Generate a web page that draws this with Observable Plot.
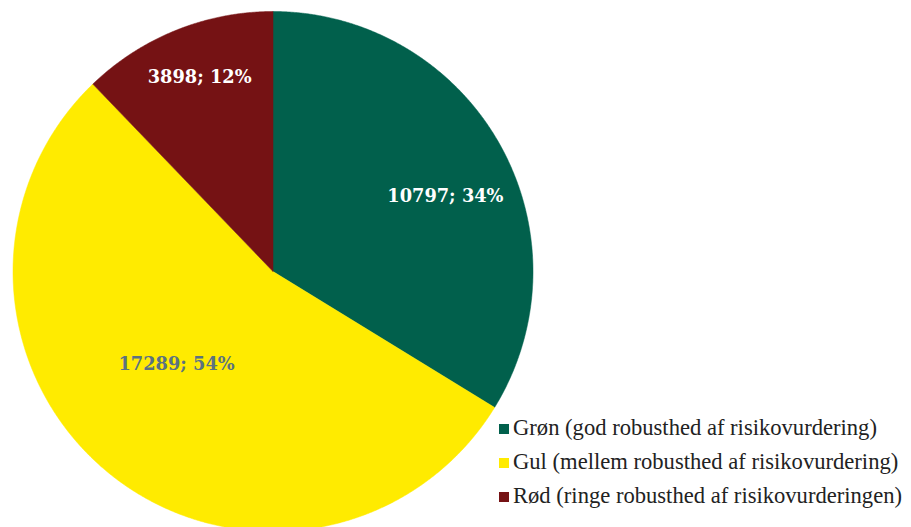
<!DOCTYPE html>
<html><head><meta charset="utf-8">
<script src="https://cdn.jsdelivr.net/npm/d3@7"></script>
<script src="https://cdn.jsdelivr.net/npm/@observablehq/plot@0.6"></script>
<style>
html,body{margin:0;padding:0;background:#fff;overflow:hidden}
#wrap{position:relative;width:911px;height:527px;overflow:hidden}
#legend{position:absolute;left:499px;top:415px;font-family:"Liberation Serif",serif;font-size:22.6px;color:#222}
.row{position:relative;height:34px;line-height:26px;white-space:nowrap}
.sw{position:absolute;left:0;top:9px;width:10px;height:10px}
.lt{position:absolute;left:14px;top:0}
</style>
</head><body><div id="wrap"></div>
<script>
const categories = ["Grøn (god robusthed af risikovurdering)", "Gul (mellem robusthed af risikovurdering)", "Rød (ringe robusthed af risikovurderingen)"];
const values = [10797, 17289, 3898];
const percents = ["34%", "54%", "12%"];
const colors = ["#01604c", "#ffeb00", "#751214"];
const labelColors = ["#ffffff", "#5b7281", "#ffffff"];
const labelAngleDeg = [66.5, 226.1, 339.3];
const labelRadius = [0.723, 0.515, 0.798];

const total = d3.sum(values);
const poly = [];
let acc = 0;
values.forEach((v, i) => {
  const a0 = acc / total * 2 * Math.PI;
  acc += v;
  const a1 = acc / total * 2 * Math.PI;
  poly.push({cat: categories[i], x: 0, y: 0});
  const n = Math.max(2, Math.ceil((a1 - a0) / (Math.PI / 720)));
  for (let k = 0; k <= n; k++) {
    const a = a0 + (a1 - a0) * k / n;
    poly.push({cat: categories[i], x: Math.sin(a), y: Math.cos(a)});
  }
  poly.push({cat: categories[i], x: 0, y: 0});
});
const labels = values.map((v, i) => {
  const a = labelAngleDeg[i] * Math.PI / 180;
  return {text: `${v}; ${percents[i]}`, x: labelRadius[i] * Math.sin(a), y: labelRadius[i] * Math.cos(a), c: labelColors[i]};
});

const chart = Plot.plot({
  width: 911, height: 527,
  x: {domain: [-1, 1], range: [12.5, 532.5], axis: null},
  y: {domain: [-1, 1], range: [531, 11], axis: null},
  color: {domain: categories, range: colors},
  style: {background: "#fff", overflow: "hidden"},
  marks: [
    Plot.line(poly, {x: "x", y: "y", z: "cat", fill: "cat", stroke: "cat", strokeWidth: 0.5, curve: "linear"}),
    Plot.text(labels, {x: "x", y: "y", text: "text", fill: "c", fontFamily: "DejaVu Serif", fontWeight: "bold", fontSize: 17.8})
  ]
});
const wrap = document.getElementById("wrap");
wrap.appendChild(chart);
const legend = document.createElement("div");
legend.id = "legend";
categories.forEach((c, i) => {
  const r = document.createElement("div"); r.className = "row";
  r.innerHTML = `<span class="sw" style="background:${colors[i]}"></span><span class="lt">${c}</span>`;
  legend.appendChild(r);
});
wrap.appendChild(legend);
</script>
</body></html>
